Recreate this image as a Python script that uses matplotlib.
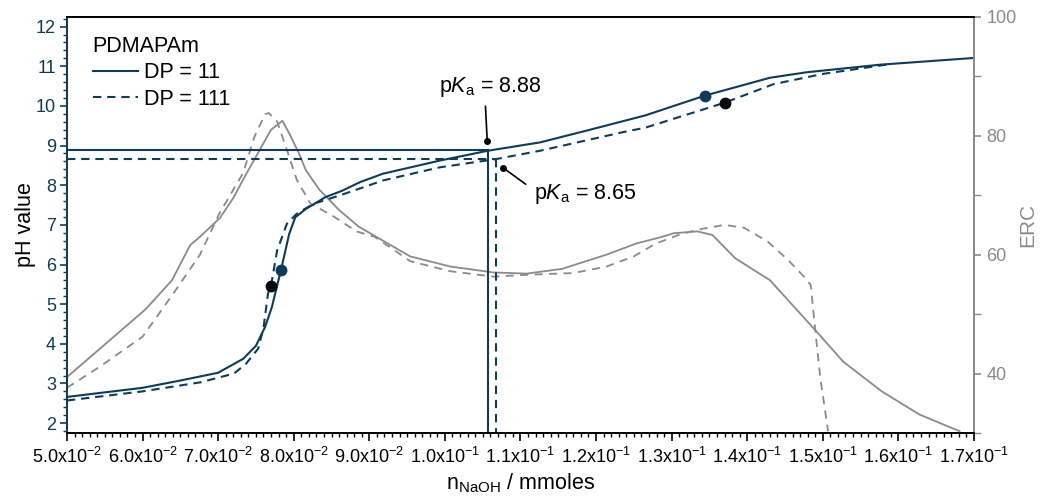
import matplotlib
matplotlib.use("Agg")
import matplotlib.pyplot as plt
from matplotlib.ticker import MultipleLocator, FixedLocator

# ---------------- data ----------------
ph11_x = [0.0500, 0.0600, 0.0649, 0.0700, 0.0733, 0.0750, 0.0762, 0.0771, 0.0783,
          0.0794, 0.0802, 0.0816, 0.0842, 0.0864, 0.0888, 0.0918, 0.0993, 0.1057,
          0.1126, 0.1188, 0.1265, 0.1344, 0.1430, 0.1479, 0.1576, 0.1700]
ph11_y = [2.66, 2.89, 3.07, 3.27, 3.62, 3.95, 4.42, 4.92, 5.85,
          6.77, 7.19, 7.40, 7.70, 7.86, 8.08, 8.29, 8.62, 8.87,
          9.08, 9.38, 9.76, 10.26, 10.71, 10.85, 11.04, 11.21]

ph111_x = [0.0500, 0.0600, 0.0677, 0.0721, 0.0737, 0.0753, 0.0760, 0.0766, 0.0770,
           0.0778, 0.0791, 0.0804, 0.0826, 0.0862, 0.0888, 0.0918, 0.0993, 0.1068,
           0.1126, 0.1236, 0.1265, 0.1370, 0.1435, 0.1501, 0.1584]
ph111_y = [2.57, 2.80, 3.03, 3.25, 3.50, 3.88, 4.40, 5.27, 5.47,
           6.35, 7.03, 7.28, 7.53, 7.75, 7.92, 8.12, 8.45, 8.66,
           8.87, 9.34, 9.45, 10.08, 10.55, 10.81, 11.04]

erc11_x = [0.0500, 0.0604, 0.0639, 0.0663, 0.0676, 0.0702, 0.0720, 0.0733, 0.0770,
           0.0785, 0.0794, 0.0807, 0.0816, 0.0834, 0.0860, 0.0886, 0.0954, 0.1007,
           0.1064, 0.1108, 0.1155, 0.1214, 0.1254, 0.1285, 0.1303, 0.1334, 0.1354,
           0.1384, 0.1430, 0.1490, 0.1527, 0.1578, 0.1628, 0.1681]
erc11_y = [39.4, 50.8, 55.7, 61.6, 63.0, 66.1, 69.5, 72.6, 81.0,
           82.5, 80.4, 77.0, 74.2, 70.9, 67.5, 64.7, 59.7, 58.0,
           57.0, 56.8, 57.6, 60.0, 61.9, 62.9, 63.6, 63.9, 63.3,
           59.4, 55.7, 47.3, 42.0, 37.0, 33.1, 30.3]

erc111_x = [0.0500, 0.0544, 0.0600, 0.0641, 0.0676, 0.0702, 0.0720, 0.0733, 0.0748,
            0.0762, 0.0767, 0.0778, 0.0791, 0.0804, 0.0822, 0.0853, 0.0883, 0.0907,
            0.0954, 0.1007, 0.1064, 0.1108, 0.1170, 0.1214, 0.1250, 0.1278, 0.1309,
            0.1335, 0.1370, 0.1396, 0.1427, 0.1454, 0.1475, 0.1484, 0.1490, 0.1497,
            0.1507]
erc111_y = [37.6, 41.2, 46.2, 53.5, 60.0, 67.0, 70.9, 73.7, 79.8,
            83.6, 83.8, 82.4, 77.6, 72.6, 68.6, 66.4, 63.9, 63.0,
            58.9, 57.2, 56.3, 56.6, 56.9, 58.0, 59.7, 61.8, 63.3,
            64.2, 65.0, 64.5, 62.2, 59.1, 56.3, 54.9, 47.3, 39.0,
            30.3]

# half-equivalence markers
mark11_x = [0.0783, 0.1344]
mark11_y = [5.85, 10.26]
mark111_x = [0.0770, 0.1370]
mark111_y = [5.47, 10.08]

# pKa values and equivalence positions
pka11, pka11_x = 8.88, 0.1057
pka111, pka111_x = 8.65, 0.1068

series_labels = ["DP = 11", "DP = 111"]
legend_title = "PDMAPAm"

xtick_vals = [0.05, 0.06, 0.07, 0.08, 0.09, 0.10, 0.11, 0.12, 0.13, 0.14, 0.15, 0.16, 0.17]
xtick_labels = [r"5.0x10$^{-2}$", r"6.0x10$^{-2}$", r"7.0x10$^{-2}$", r"8.0x10$^{-2}$",
                r"9.0x10$^{-2}$", r"1.0x10$^{-1}$", r"1.1x10$^{-1}$", r"1.2x10$^{-1}$",
                r"1.3x10$^{-1}$", r"1.4x10$^{-1}$", r"1.5x10$^{-1}$", r"1.6x10$^{-1}$",
                r"1.7x10$^{-1}$"]
ytick_vals = [2, 3, 4, 5, 6, 7, 8, 9, 10, 11, 12]
y2tick_vals = [40, 60, 80, 100]

# ---------------- style ----------------
plt.rcParams['font.family'] = ['Liberation Sans', 'DejaVu Sans']
plt.rcParams['mathtext.fontset'] = 'custom'
plt.rcParams['mathtext.rm'] = 'Liberation Sans'
plt.rcParams['mathtext.it'] = 'Liberation Sans:italic'
plt.rcParams['mathtext.bf'] = 'Liberation Sans:bold'

BLUE = '#0f3b58'
GRAY = '#8a8a8a'
BLACK = '#000000'
FS_TICK = 13
FS_BIG = 15.5

fig = plt.figure(figsize=(10.4, 4.96), dpi=100)
ax = fig.add_axes([0.0644, 0.1270, 0.8721, 0.8393])
ax2 = ax.twinx()
ax.set_zorder(ax2.get_zorder() + 1)
ax.patch.set_visible(False)

# ERC curves (right axis)
ax2.plot(erc11_x, erc11_y, color=GRAY, lw=1.3)
l2, = ax2.plot(erc111_x, erc111_y, color=GRAY, lw=1.3)
l2.set_dashes([4.5, 3.5])

# pH curves (left axis)
s1, = ax.plot(ph11_x, ph11_y, color=BLUE, lw=1.5, label=series_labels[0])
s2, = ax.plot(ph111_x, ph111_y, color=BLUE, lw=1.5, label=series_labels[1])
s2.set_dashes([4.0, 2.8])

# pKa guide lines
ax.plot([0.05, pka11_x], [pka11, pka11], color=BLUE, lw=1.5)
ax.plot([pka11_x, pka11_x], [pka11, 1.75], color=BLUE, lw=1.5)
h2, = ax.plot([0.05, pka111_x], [pka111, pka111], color=BLUE, lw=1.5)
h2.set_dashes([4.0, 2.8])
v2, = ax.plot([pka111_x, pka111_x], [pka111, 1.75], color=BLUE, lw=1.5)
v2.set_dashes([4.0, 2.8])

# markers
ax.plot(mark11_x, mark11_y, 'o', color=BLUE, ms=7.5, zorder=5)
ax.plot(mark111_x, mark111_y, 'o', color='#050a10', ms=7.5, zorder=5)

# annotations
dot1 = (0.1056, 9.12)
dot2 = (0.1077, 8.44)
ax.plot([dot1[0], dot2[0]], [dot1[1], dot2[1]], 'o', color=BLACK, ms=4, zorder=6)
ax.annotate(r"p$K_\mathrm{a}$ = %.2f" % pka11, xy=dot1, xytext=(0.1060, 10.47),
            ha='center', va='center', fontsize=FS_BIG,
            arrowprops=dict(arrowstyle='-', color=BLACK, lw=1.2,
                            relpos=(0.45, 0.0), shrinkA=3, shrinkB=0))
ax.annotate(r"p$K_\mathrm{a}$ = %.2f" % pka111, xy=dot2, xytext=(0.1118, 7.78),
            ha='left', va='center', fontsize=FS_BIG,
            arrowprops=dict(arrowstyle='-', color=BLACK, lw=1.2,
                            relpos=(0.0, 0.65), shrinkA=5, shrinkB=0))

# axes limits & ticks
ax.set_xlim(0.05, 0.17)
ax.set_ylim(1.75, 12.25)
ax2.set_ylim(30, 100)

ax.xaxis.set_major_locator(FixedLocator(xtick_vals))
ax.set_xticklabels(xtick_labels)
ax.xaxis.set_minor_locator(MultipleLocator(0.001))
ax.yaxis.set_major_locator(FixedLocator(ytick_vals))
ax.yaxis.set_minor_locator(MultipleLocator(0.2))
ax2.yaxis.set_major_locator(FixedLocator(y2tick_vals))
ax2.yaxis.set_minor_locator(MultipleLocator(10))

ax.tick_params(axis='x', which='major', direction='out', length=6, width=1.2,
               color=BLACK, labelsize=FS_TICK, labelcolor=BLACK, pad=4)
ax.tick_params(axis='x', which='minor', direction='out', length=3, width=1.0, color=BLACK)
ax.tick_params(axis='y', which='major', direction='out', length=5, width=1.2,
               color=BLUE, labelsize=FS_TICK, labelcolor=BLUE, pad=3)
ax.tick_params(axis='y', which='minor', direction='out', length=3, width=1.0, color=BLUE)
ax2.tick_params(axis='y', which='major', direction='out', length=5, width=1.2,
                color=GRAY, labelsize=FS_TICK, labelcolor=GRAY, pad=4)
ax2.tick_params(axis='y', which='minor', direction='out', length=5, width=1.0, color=GRAY)

for a in (ax, ax2):
    a.spines['top'].set_color(BLACK)
    a.spines['bottom'].set_color(BLACK)
    a.spines['left'].set_color(BLUE)
    a.spines['right'].set_color(GRAY)
    for sp in a.spines.values():
        sp.set_linewidth(1.3)

ax.set_xlabel(r"n$_\mathrm{NaOH}$ / mmoles", fontsize=FS_BIG, labelpad=3)
ax.set_ylabel("pH value", fontsize=FS_BIG, labelpad=0)
ax2.set_ylabel("ERC", fontsize=15, color=GRAY, labelpad=1)

leg = ax.legend(handles=[s1, s2], title=legend_title, loc='upper left',
                bbox_to_anchor=(0.014, 0.985), frameon=False, fontsize=FS_BIG,
                title_fontsize=FS_BIG, handlelength=2.1, handletextpad=0.3,
                labelspacing=0.25, borderaxespad=0.2)
leg._legend_box.align = 'left'

fig.savefig("out.png", dpi=100)
